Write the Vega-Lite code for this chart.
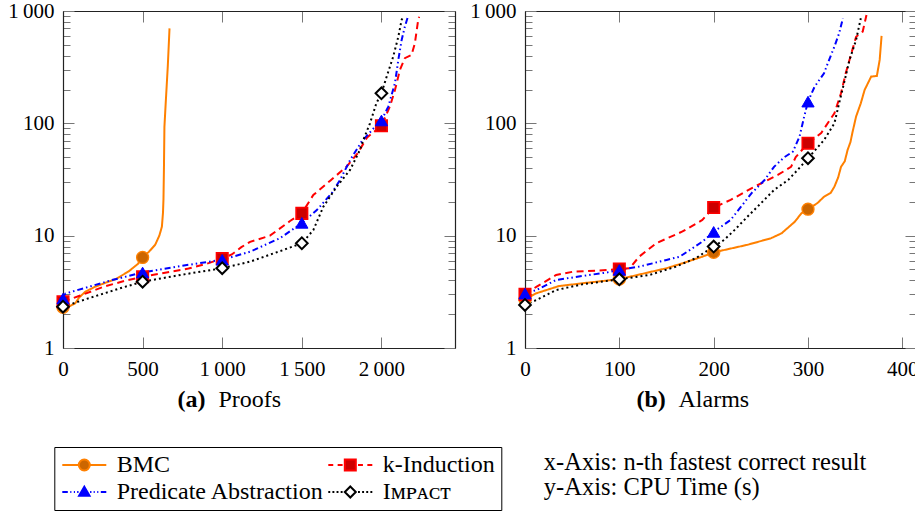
{
  "$schema": "https://vega.github.io/schema/vega-lite/v6.json",
  "padding": {"left": 7, "top": 0, "right": 0, "bottom": 0},
  "config": {
    "font": "Liberation Serif",
    "view": {"stroke": null},
    "axis": {
      "grid": false,
      "domainColor": "#222222",
      "domainWidth": 1.2,
      "tickColor": "#777777",
      "tickWidth": 1,
      "labelFont": "Liberation Serif",
      "labelFontSize": 21,
      "labelColor": "#000000",
      "labelFlush": false,
      "labelOverlap": false,
      "titleFont": "Liberation Serif",
      "titleFontSize": 24,
      "titleColor": "#000000",
      "titleFontWeight": "normal"
    }
  },
  "datasets": {
    "proofs": [
      {"series": "BMC", "n": 0, "t": 2.3}, {"series": "BMC", "n": 40, "t": 2.35}, {"series": "BMC", "n": 77, "t": 2.5}, {"series": "BMC", "n": 100, "t": 2.8}, {"series": "BMC", "n": 140, "t": 3.17}, {"series": "BMC", "n": 200, "t": 3.5}, {"series": "BMC", "n": 265, "t": 3.8}, {"series": "BMC", "n": 330, "t": 4.1}, {"series": "BMC", "n": 412, "t": 4.8}, {"series": "BMC", "n": 470, "t": 5.6}, {"series": "BMC", "n": 500, "t": 6.4}, {"series": "BMC", "n": 540, "t": 7.2}, {"series": "BMC", "n": 579, "t": 8.3}, {"series": "BMC", "n": 605, "t": 10}, {"series": "BMC", "n": 621, "t": 12}, {"series": "BMC", "n": 628, "t": 16}, {"series": "BMC", "n": 631, "t": 21}, {"series": "BMC", "n": 634, "t": 40}, {"series": "BMC", "n": 637, "t": 93}, {"series": "BMC", "n": 646, "t": 160}, {"series": "BMC", "n": 658, "t": 320}, {"series": "BMC", "n": 669, "t": 700},
      {"series": "k-Induction", "n": 0, "t": 2.58}, {"series": "k-Induction", "n": 100, "t": 2.9}, {"series": "k-Induction", "n": 265, "t": 3.55}, {"series": "k-Induction", "n": 400, "t": 4.0}, {"series": "k-Induction", "n": 500, "t": 4.3}, {"series": "k-Induction", "n": 650, "t": 4.7}, {"series": "k-Induction", "n": 788, "t": 5.1}, {"series": "k-Induction", "n": 900, "t": 5.6}, {"series": "k-Induction", "n": 1000, "t": 6.25}, {"series": "k-Induction", "n": 1060, "t": 6.8}, {"series": "k-Induction", "n": 1120, "t": 7.9}, {"series": "k-Induction", "n": 1175, "t": 8.8}, {"series": "k-Induction", "n": 1300, "t": 10}, {"series": "k-Induction", "n": 1426, "t": 13.5}, {"series": "k-Induction", "n": 1500, "t": 15.8}, {"series": "k-Induction", "n": 1572, "t": 23}, {"series": "k-Induction", "n": 1680, "t": 31}, {"series": "k-Induction", "n": 1780, "t": 41}, {"series": "k-Induction", "n": 1850, "t": 54}, {"series": "k-Induction", "n": 1910, "t": 75}, {"series": "k-Induction", "n": 2000, "t": 95}, {"series": "k-Induction", "n": 2053, "t": 141}, {"series": "k-Induction", "n": 2085, "t": 198}, {"series": "k-Induction", "n": 2116, "t": 299}, {"series": "k-Induction", "n": 2147, "t": 380}, {"series": "k-Induction", "n": 2189, "t": 406}, {"series": "k-Induction", "n": 2210, "t": 517}, {"series": "k-Induction", "n": 2231, "t": 836}, {"series": "k-Induction", "n": 2237, "t": 890},
      {"series": "Predicate Abstraction", "n": 0, "t": 2.75}, {"series": "Predicate Abstraction", "n": 15, "t": 3.05}, {"series": "Predicate Abstraction", "n": 161, "t": 3.5}, {"series": "Predicate Abstraction", "n": 300, "t": 4.0}, {"series": "Predicate Abstraction", "n": 500, "t": 4.7}, {"series": "Predicate Abstraction", "n": 750, "t": 5.4}, {"series": "Predicate Abstraction", "n": 1000, "t": 6.1}, {"series": "Predicate Abstraction", "n": 1175, "t": 7.2}, {"series": "Predicate Abstraction", "n": 1363, "t": 9.5}, {"series": "Predicate Abstraction", "n": 1440, "t": 11.3}, {"series": "Predicate Abstraction", "n": 1500, "t": 13}, {"series": "Predicate Abstraction", "n": 1594, "t": 16.9}, {"series": "Predicate Abstraction", "n": 1688, "t": 23.9}, {"series": "Predicate Abstraction", "n": 1740, "t": 31.3}, {"series": "Predicate Abstraction", "n": 1803, "t": 47}, {"series": "Predicate Abstraction", "n": 1876, "t": 69}, {"series": "Predicate Abstraction", "n": 1950, "t": 90}, {"series": "Predicate Abstraction", "n": 2000, "t": 106}, {"series": "Predicate Abstraction", "n": 2043, "t": 141}, {"series": "Predicate Abstraction", "n": 2085, "t": 228}, {"series": "Predicate Abstraction", "n": 2106, "t": 367}, {"series": "Predicate Abstraction", "n": 2127, "t": 553}, {"series": "Predicate Abstraction", "n": 2147, "t": 725}, {"series": "Predicate Abstraction", "n": 2164, "t": 870},
      {"series": "IMPACT", "n": 0, "t": 2.33}, {"series": "IMPACT", "n": 161, "t": 2.77}, {"series": "IMPACT", "n": 370, "t": 3.44}, {"series": "IMPACT", "n": 500, "t": 3.89}, {"series": "IMPACT", "n": 750, "t": 4.5}, {"series": "IMPACT", "n": 1000, "t": 5.13}, {"series": "IMPACT", "n": 1175, "t": 5.87}, {"series": "IMPACT", "n": 1384, "t": 7.46}, {"series": "IMPACT", "n": 1500, "t": 8.56}, {"series": "IMPACT", "n": 1572, "t": 11.2}, {"series": "IMPACT", "n": 1635, "t": 18.1}, {"series": "IMPACT", "n": 1719, "t": 27.3}, {"series": "IMPACT", "n": 1803, "t": 38.5}, {"series": "IMPACT", "n": 1865, "t": 58}, {"series": "IMPACT", "n": 1886, "t": 71}, {"series": "IMPACT", "n": 1928, "t": 100}, {"series": "IMPACT", "n": 1968, "t": 151}, {"series": "IMPACT", "n": 2000, "t": 185}, {"series": "IMPACT", "n": 2033, "t": 261}, {"series": "IMPACT", "n": 2074, "t": 393}, {"series": "IMPACT", "n": 2106, "t": 590}, {"series": "IMPACT", "n": 2127, "t": 836}, {"series": "IMPACT", "n": 2140, "t": 900}
    ],
    "alarms": [
      {"series": "BMC", "n": 0, "t": 2.7}, {"series": "BMC", "n": 12, "t": 3.07}, {"series": "BMC", "n": 36, "t": 3.56}, {"series": "BMC", "n": 61, "t": 3.77}, {"series": "BMC", "n": 100, "t": 4.1}, {"series": "BMC", "n": 150, "t": 5.13}, {"series": "BMC", "n": 167, "t": 5.68}, {"series": "BMC", "n": 188, "t": 6.5}, {"series": "BMC", "n": 200, "t": 7.1}, {"series": "BMC", "n": 236, "t": 8.3}, {"series": "BMC", "n": 261, "t": 9.5}, {"series": "BMC", "n": 272, "t": 10.5}, {"series": "BMC", "n": 286, "t": 13.3}, {"series": "BMC", "n": 293, "t": 15.8}, {"series": "BMC", "n": 300, "t": 17.2}, {"series": "BMC", "n": 310, "t": 19.5}, {"series": "BMC", "n": 317, "t": 22.2}, {"series": "BMC", "n": 324, "t": 24}, {"series": "BMC", "n": 328, "t": 27.3}, {"series": "BMC", "n": 332, "t": 33}, {"series": "BMC", "n": 335, "t": 41}, {"series": "BMC", "n": 339, "t": 46}, {"series": "BMC", "n": 342, "t": 58}, {"series": "BMC", "n": 345, "t": 68}, {"series": "BMC", "n": 347, "t": 82}, {"series": "BMC", "n": 351, "t": 115}, {"series": "BMC", "n": 356, "t": 151}, {"series": "BMC", "n": 360, "t": 198}, {"series": "BMC", "n": 367, "t": 261}, {"series": "BMC", "n": 373, "t": 264}, {"series": "BMC", "n": 376, "t": 367}, {"series": "BMC", "n": 378, "t": 600},
      {"series": "k-Induction", "n": 0, "t": 3.0}, {"series": "k-Induction", "n": 12, "t": 3.5}, {"series": "k-Induction", "n": 33, "t": 4.47}, {"series": "k-Induction", "n": 51, "t": 4.78}, {"series": "k-Induction", "n": 89, "t": 4.95}, {"series": "k-Induction", "n": 100, "t": 5.05}, {"series": "k-Induction", "n": 111, "t": 5.13}, {"series": "k-Induction", "n": 121, "t": 6.5}, {"series": "k-Induction", "n": 139, "t": 8.55}, {"series": "k-Induction", "n": 167, "t": 10.9}, {"series": "k-Induction", "n": 188, "t": 13.8}, {"series": "k-Induction", "n": 200, "t": 17.8}, {"series": "k-Induction", "n": 218, "t": 20.8}, {"series": "k-Induction", "n": 240, "t": 26.4}, {"series": "k-Induction", "n": 254, "t": 30.3}, {"series": "k-Induction", "n": 268, "t": 34.7}, {"series": "k-Induction", "n": 282, "t": 41}, {"series": "k-Induction", "n": 287, "t": 50}, {"series": "k-Induction", "n": 300, "t": 66.5}, {"series": "k-Induction", "n": 314, "t": 82}, {"series": "k-Induction", "n": 328, "t": 123}, {"series": "k-Induction", "n": 335, "t": 185}, {"series": "k-Induction", "n": 340, "t": 279}, {"series": "k-Induction", "n": 346, "t": 421}, {"series": "k-Induction", "n": 351, "t": 590}, {"series": "k-Induction", "n": 358, "t": 656}, {"series": "k-Induction", "n": 362, "t": 923},
      {"series": "Predicate Abstraction", "n": 0, "t": 3.05}, {"series": "Predicate Abstraction", "n": 12, "t": 3.28}, {"series": "Predicate Abstraction", "n": 33, "t": 4.03}, {"series": "Predicate Abstraction", "n": 61, "t": 4.38}, {"series": "Predicate Abstraction", "n": 86, "t": 4.69}, {"series": "Predicate Abstraction", "n": 100, "t": 4.95}, {"series": "Predicate Abstraction", "n": 121, "t": 5.3}, {"series": "Predicate Abstraction", "n": 150, "t": 6.08}, {"series": "Predicate Abstraction", "n": 164, "t": 6.5}, {"series": "Predicate Abstraction", "n": 188, "t": 8.85}, {"series": "Predicate Abstraction", "n": 200, "t": 10.8}, {"series": "Predicate Abstraction", "n": 218, "t": 13.8}, {"series": "Predicate Abstraction", "n": 229, "t": 18.1}, {"series": "Predicate Abstraction", "n": 240, "t": 23.8}, {"series": "Predicate Abstraction", "n": 254, "t": 31.3}, {"series": "Predicate Abstraction", "n": 264, "t": 41}, {"series": "Predicate Abstraction", "n": 275, "t": 50}, {"series": "Predicate Abstraction", "n": 284, "t": 56}, {"series": "Predicate Abstraction", "n": 291, "t": 76}, {"series": "Predicate Abstraction", "n": 296, "t": 115}, {"series": "Predicate Abstraction", "n": 300, "t": 156}, {"series": "Predicate Abstraction", "n": 307, "t": 212}, {"series": "Predicate Abstraction", "n": 317, "t": 279}, {"series": "Predicate Abstraction", "n": 321, "t": 343}, {"series": "Predicate Abstraction", "n": 328, "t": 482}, {"series": "Predicate Abstraction", "n": 333, "t": 632}, {"series": "Predicate Abstraction", "n": 337, "t": 863},
      {"series": "IMPACT", "n": 0, "t": 2.42}, {"series": "IMPACT", "n": 12, "t": 2.67}, {"series": "IMPACT", "n": 33, "t": 3.28}, {"series": "IMPACT", "n": 61, "t": 3.69}, {"series": "IMPACT", "n": 100, "t": 4.09}, {"series": "IMPACT", "n": 132, "t": 4.47}, {"series": "IMPACT", "n": 160, "t": 5.3}, {"series": "IMPACT", "n": 181, "t": 6.3}, {"series": "IMPACT", "n": 200, "t": 8.0}, {"series": "IMPACT", "n": 211, "t": 9.16}, {"series": "IMPACT", "n": 222, "t": 11.2}, {"series": "IMPACT", "n": 236, "t": 14.8}, {"series": "IMPACT", "n": 250, "t": 19.4}, {"series": "IMPACT", "n": 264, "t": 25.5}, {"series": "IMPACT", "n": 279, "t": 31.3}, {"series": "IMPACT", "n": 289, "t": 38.5}, {"series": "IMPACT", "n": 300, "t": 48.9}, {"series": "IMPACT", "n": 317, "t": 71}, {"series": "IMPACT", "n": 328, "t": 100}, {"series": "IMPACT", "n": 333, "t": 151}, {"series": "IMPACT", "n": 339, "t": 243}, {"series": "IMPACT", "n": 344, "t": 367}, {"series": "IMPACT", "n": 351, "t": 553}, {"series": "IMPACT", "n": 356, "t": 863}
    ]
  },
  "title": {
    "text": ["x-Axis: n-th fastest correct result", "y-Axis: CPU Time (s)"],
    "orient": "bottom",
    "anchor": "start",
    "align": "left",
    "baseline": "top",
    "dx": 536,
    "dy": -60,
    "offset": 0,
    "font": "Liberation Serif",
    "fontSize": 24.5,
    "fontWeight": "normal",
    "color": "#000000",
    "lineHeight": 25
  },
  "spacing": 13,
  "hconcat": [
    {
      "width": 392,
      "height": 337,
      "data": {"name": "proofs"},
      "resolve": {"scale": {"x": "independent", "y": "independent"}},
      "layer": [
        {
          "mark": {"type": "line", "strokeWidth": 2, "strokeCap": "butt"},
          "encoding": {
            "x": {"field": "n", "type": "quantitative",
              "scale": {"domain": [0, 2462], "nice": false, "zero": false},
              "axis": {"orient": "bottom", "values": [0, 500, 1000, 1500, 2000], "tickSize": -11, "labelPadding": 21,
                "labelExpr": "replace(format(datum.value, ','), ',', '\u2009')",
                "title": "Proofs", "titleX": 155, "titleY": 58, "titleAlign": "left", "titleBaseline": "alphabetic"}},
            "y": {"field": "t", "type": "quantitative",
              "scale": {"type": "log", "domain": [1, 1000], "nice": false},
              "axis": {"orient": "left", "values": [1,2,3,4,5,6,7,8,9,10,20,30,40,50,60,70,80,90,100,200,300,400,500,600,700,800,900,1000],
                "tickSize": {"condition": {"test": "datum.value == 1 || datum.value == 10 || datum.value == 100 || datum.value == 1000", "value": -11}, "value": -7},
                "labelPadding": 20,
                "labelExpr": "datum.value == 1000 ? '1\u2009000' : (datum.value == 1 || datum.value == 10 || datum.value == 100) ? '' + datum.value : ''",
                "title": null}},
            "stroke": {"field": "series", "type": "nominal",
              "scale": {"domain": ["BMC", "k-Induction", "Predicate Abstraction", "IMPACT"], "range": ["#ff8000", "#ff0000", "#0000ff", "#000000"]},
              "legend": {
                "orient": "none", "legendX": -8.7, "legendY": 436,
                "columns": 2, "direction": "horizontal", "title": null,
                "strokeColor": "#000000", "fillColor": "#ffffff", "padding": 6,
                "symbolSize": 121, "symbolStrokeWidth": 2, "symbolOffset": 12, "labelOffset": 20.4,
                "labelFont": "Liberation Serif", "labelFontSize": 24, "labelColor": "#000000", "labelLimit": 400,
                "columnPadding": 0, "rowPadding": 3,
                "labelExpr": "datum.value == 'IMPACT' ? 'I\u1d0d\u1d18\u1d00\u1d04\u1d1b' : datum.label",
                "encode": {"symbols": {"update": {
                  "shape": {"signal": "datum.value == 'BMC' ? 'M-4,0H-1M1,0H4M-1,0A1,1,0,1,0,1,0A1,1,0,1,0,-1,0Z' : datum.value == 'k-Induction' ? 'M-4,0H-3.1M-2.3,0H-1.4M1.4,0H2.3M3.1,0H4M-1,-1H1V1H-1Z' : datum.value == 'Predicate Abstraction' ? 'M-4,0H-3M-2.55,0H-2.35M-1.9,0H-1.7M-1.3,0H-1.05M1.05,0H1.3M1.7,0H1.9M2.35,0H2.55M3,0H4M0,-0.95L0.95,0.7H-0.95Z' : 'M-4,0H-3.65M-3.25,0H-2.9M-2.5,0H-2.15M-1.75,0H-1.4M1.4,0H1.75M2.15,0H2.5M2.9,0H3.25M3.65,0H4M0,-1L1,0L0,1L-1,0Z'"},
                  "fill": {"signal": "datum.value == 'BMC' ? '#cc6600' : datum.value == 'k-Induction' ? '#cc0000' : datum.value == 'Predicate Abstraction' ? '#0000ff' : '#ffffff'"},
                  "strokeWidth": {"value": 2},
                  "opacity": {"value": 1}
                }}}
              }},
            "strokeDash": {"field": "series", "type": "nominal",
              "scale": {"domain": ["IMPACT", "BMC", "k-Induction", "Predicate Abstraction"], "range": [[2, 3], [1, 0], [7, 4.5], [6, 3, 1.5, 3, 1.5, 3]]},
              "legend": null}
          }
        },
        {
          "transform": [{"filter": "datum.n % 500 == 0"}],
          "mark": {"type": "point", "filled": true, "opacity": 1},
          "encoding": {
            "x": {"field": "n", "type": "quantitative",
              "scale": {"domain": [0, 2462], "nice": false, "zero": false},
              "axis": {"orient": "top", "values": [0, 500, 1000, 1500, 2000], "tickSize": -11, "labels": false,
                "title": "(a)", "titleFontWeight": "bold", "titleX": 114, "titleY": 395, "titleAlign": "left", "titleBaseline": "alphabetic"}},
            "y": {"field": "t", "type": "quantitative",
              "scale": {"type": "log", "domain": [1, 1000], "nice": false},
              "axis": {"orient": "right", "values": [1,2,3,4,5,6,7,8,9,10,20,30,40,50,60,70,80,90,100,200,300,400,500,600,700,800,900,1000],
                "tickSize": {"condition": {"test": "datum.value == 1 || datum.value == 10 || datum.value == 100 || datum.value == 1000", "value": -11}, "value": -7},
                "labels": false, "title": null}},
            "shape": {"field": "series", "type": "nominal",
              "scale": {"domain": ["Predicate Abstraction", "IMPACT", "BMC", "k-Induction"], "range": ["triangle-up", "diamond", "circle", "square"]}, "legend": null},
            "fill": {"field": "series", "type": "nominal",
              "scale": {"domain": ["k-Induction", "Predicate Abstraction", "IMPACT", "BMC"], "range": ["#cc0000", "#0000ff", "#ffffff", "#cc6600"]}, "legend": null},
            "stroke": {"field": "series", "type": "nominal",
              "scale": {"domain": ["BMC", "k-Induction", "Predicate Abstraction", "IMPACT"], "range": ["#ff8000", "#ff0000", "#0000ff", "#000000"]}, "legend": null},
            "strokeWidth": {"field": "series", "type": "ordinal",
              "scale": {"domain": ["IMPACT", "k-Induction", "BMC", "Predicate Abstraction"], "range": [2, 1, 1, 1]}, "legend": null},
            "size": {"field": "series", "type": "ordinal",
              "scale": {"domain": ["Predicate Abstraction", "BMC", "IMPACT", "k-Induction"], "range": [150, 130, 100, 130]}, "legend": null}
          }
        }
      ]
    },
    {
      "width": 391,
      "height": 337,
      "data": {"name": "alarms"},
      "resolve": {"scale": {"x": "independent", "y": "independent"}},
      "layer": [
        {
          "mark": {"type": "line", "strokeWidth": 2, "strokeCap": "butt"},
          "encoding": {
            "x": {"field": "n", "type": "quantitative",
              "scale": {"domain": [0, 414.5], "nice": false, "zero": false},
              "axis": {"orient": "bottom", "values": [0, 100, 200, 300, 400], "tickSize": -11, "labelPadding": 21,
                "title": "Alarms", "titleX": 153, "titleY": 58, "titleAlign": "left", "titleBaseline": "alphabetic"}},
            "y": {"field": "t", "type": "quantitative",
              "scale": {"type": "log", "domain": [1, 1000], "nice": false},
              "axis": {"orient": "left", "values": [1,2,3,4,5,6,7,8,9,10,20,30,40,50,60,70,80,90,100,200,300,400,500,600,700,800,900,1000],
                "tickSize": {"condition": {"test": "datum.value == 1 || datum.value == 10 || datum.value == 100 || datum.value == 1000", "value": -11}, "value": -7},
                "labelPadding": 20,
                "labelExpr": "datum.value == 1000 ? '1\u2009000' : (datum.value == 1 || datum.value == 10 || datum.value == 100) ? '' + datum.value : ''",
                "title": null}},
            "stroke": {"field": "series", "type": "nominal",
              "scale": {"domain": ["BMC", "k-Induction", "Predicate Abstraction", "IMPACT"], "range": ["#ff8000", "#ff0000", "#0000ff", "#000000"]},
              "legend": null},
            "strokeDash": {"field": "series", "type": "nominal",
              "scale": {"domain": ["IMPACT", "BMC", "k-Induction", "Predicate Abstraction"], "range": [[2, 3], [1, 0], [7, 4.5], [6, 3, 1.5, 3, 1.5, 3]]},
              "legend": null}
          }
        },
        {
          "transform": [{"filter": "datum.n % 100 == 0"}],
          "mark": {"type": "point", "filled": true, "opacity": 1},
          "encoding": {
            "x": {"field": "n", "type": "quantitative",
              "scale": {"domain": [0, 414.5], "nice": false, "zero": false},
              "axis": {"orient": "top", "values": [0, 100, 200, 300, 400], "tickSize": -11, "labels": false,
                "title": "(b)", "titleFontWeight": "bold", "titleX": 111, "titleY": 395, "titleAlign": "left", "titleBaseline": "alphabetic"}},
            "y": {"field": "t", "type": "quantitative",
              "scale": {"type": "log", "domain": [1, 1000], "nice": false},
              "axis": {"orient": "right", "values": [1,2,3,4,5,6,7,8,9,10,20,30,40,50,60,70,80,90,100,200,300,400,500,600,700,800,900,1000],
                "tickSize": {"condition": {"test": "datum.value == 1 || datum.value == 10 || datum.value == 100 || datum.value == 1000", "value": -11}, "value": -7},
                "labels": false, "title": null}},
            "shape": {"field": "series", "type": "nominal",
              "scale": {"domain": ["Predicate Abstraction", "IMPACT", "BMC", "k-Induction"], "range": ["triangle-up", "diamond", "circle", "square"]}, "legend": null},
            "fill": {"field": "series", "type": "nominal",
              "scale": {"domain": ["k-Induction", "Predicate Abstraction", "IMPACT", "BMC"], "range": ["#cc0000", "#0000ff", "#ffffff", "#cc6600"]}, "legend": null},
            "stroke": {"field": "series", "type": "nominal",
              "scale": {"domain": ["BMC", "k-Induction", "Predicate Abstraction", "IMPACT"], "range": ["#ff8000", "#ff0000", "#0000ff", "#000000"]}, "legend": null},
            "strokeWidth": {"field": "series", "type": "ordinal",
              "scale": {"domain": ["IMPACT", "k-Induction", "BMC", "Predicate Abstraction"], "range": [2, 1, 1, 1]}, "legend": null},
            "size": {"field": "series", "type": "ordinal",
              "scale": {"domain": ["Predicate Abstraction", "BMC", "IMPACT", "k-Induction"], "range": [150, 130, 100, 130]}, "legend": null}
          }
        }
      ]
    }
  ]
}
